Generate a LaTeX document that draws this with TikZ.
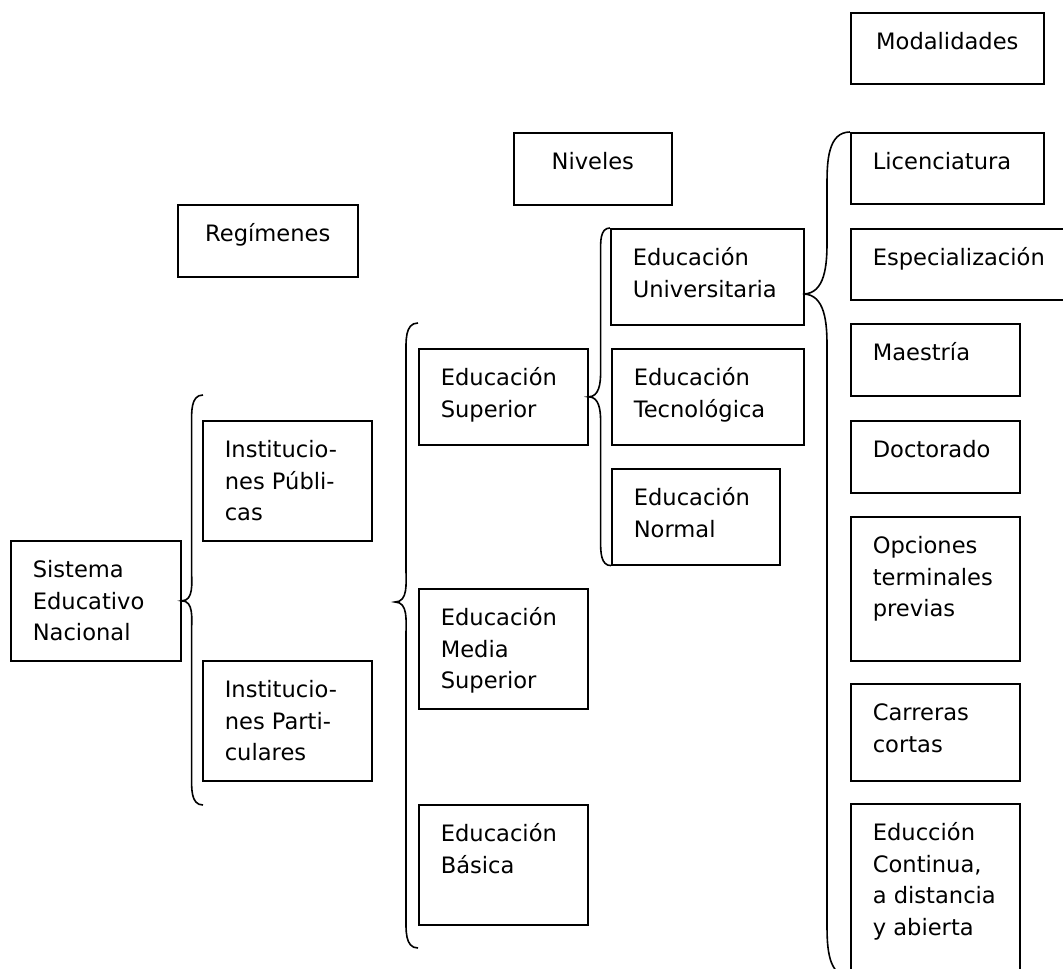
\documentclass[tikz,border=0pt]{standalone}
\usepackage{fontspec}
\setmainfont{DejaVu Sans}
\usetikzlibrary{calc}
\newlength\pxu \setlength\pxu{0.5pt}
% box text: width, height (px), text at the top
\newcommand\caja[4][\raggedright\leftskip=11pt]{\parbox[c][#3\pxu][t]{#2\pxu}{#1\fontsize{11.3}{15.75}\selectfont\rule{0pt}{18.5pt}#4}}
% brace: tip, top end, bottom end, offset, radius
\newcommand\llave[5]{\draw[llave] let \p1=(#1), \p2=(#2), \p3=(#3) in
  (\p2) to[out=180,in=90] (\x1+#4,\y2-#5) -- (\x1+#4,\y1+#5) to[out=-90,in=0] (\p1)
  to[out=0,in=90] (\x1+#4,\y1-#5) -- (\x1+#4,\y3+#5) to[out=-90,in=180] (\p3);}

\begin{document}
\begin{tikzpicture}[x=0.5pt,y=-0.5pt,cuadro/.style={draw,line width=0.8pt,inner sep=0pt,anchor=north west},llave/.style={line width=0.8pt}]
\useasboundingbox(0,0)rectangle(1063,968);\clip(0,0)rectangle(1063,968);
% titles
\node[cuadro](reg)at(177,204){\caja[\centering]{180}{72}{Reg\'imenes}};
\node[cuadro](niv)at(513,132){\caja[\centering]{158}{72}{Niveles}};
\node[cuadro](mod)at(850,12){\caja[\centering]{193}{71}{Modalidades}};
% regimes
\node[cuadro](sen)at(10,540){\caja{170}{120}{Sistema\\Educativo\\Nacional}};
\node[cuadro](pub)at(202,420){\caja{169}{120}{Institucio-\\nes P\'ubli-\\cas}};
\node[cuadro](par)at(202,660){\caja{169}{120}{Institucio-\\nes Parti-\\culares}};
% levels
\node[cuadro](sup)at(418,348){\caja{169}{96}{Educaci\'on\\Superior}};
\node[cuadro](med)at(418,588){\caja{169}{120}{Educaci\'on\\Media\\Superior}};
\node[cuadro](bas)at(418,804){\caja{169}{120}{Educaci\'on\\B\'asica}};
\node[cuadro](uni)at(610,228){\caja{193}{96}{Educaci\'on\\Universitaria}};
\node[cuadro](tec)at(611,348){\caja{192}{96}{Educaci\'on\\Tecnol\'ogica}};
\node[cuadro](nor)at(611,468){\caja{168}{96}{Educaci\'on\\Normal}};
% modalities
\node[cuadro](lic)at(850,132){\caja{193}{71}{Licenciatura}};
\node[cuadro](esp)at(850,228){\caja{220}{71}{Especializaci\'on}};
\node[cuadro](mae)at(850,323){\caja{169}{72}{Maestr\'ia}};
\node[cuadro](doc)at(850,420){\caja{169}{72}{Doctorado}};
\node[cuadro](opc)at(850,516){\caja{169}{144}{Opciones\\terminales\\previas}};
\node[cuadro](car)at(850,683){\caja{169}{97}{Carreras\\cortas}};
\node[cuadro](edu)at(850,803){\caja{169}{172}{Educci\'on\\Continua,\\a distancia\\y abierta}};
% braces
\coordinate(ll1a)at(203,395);\coordinate(ll1b)at(203,805);
\coordinate(ll2)at(395,602);\coordinate(ll2a)at(418,323);\coordinate(ll2b)at(418,948);
\coordinate(ll4)at(803,294);
\llave{sen.east}{ll1a}{ll1b}{5pt}{15pt}
\llave{ll2}{ll2a}{ll2b}{5.5pt}{16pt}
\llave{sup.east}{uni.north west}{nor.south west}{6pt}{12pt}
\llave{ll4}{lic.north west}{edu.south west}{12pt}{26pt}
\end{tikzpicture}
\end{document}
